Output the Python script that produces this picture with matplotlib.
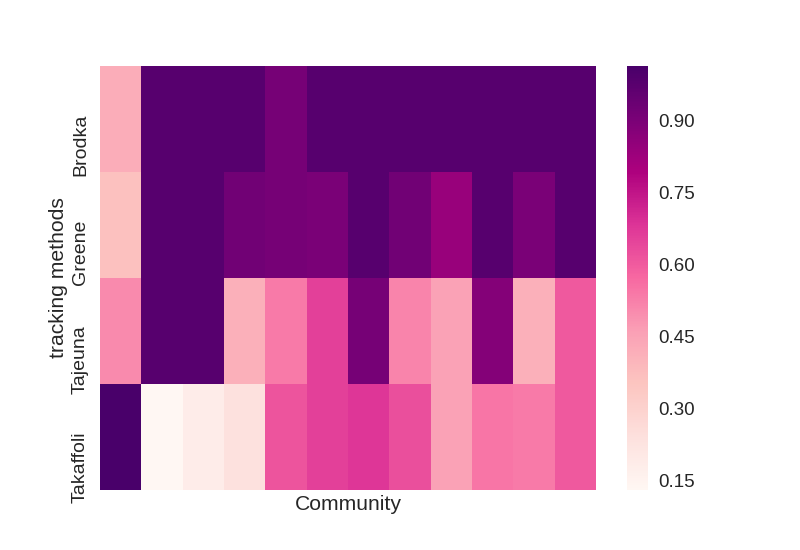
import numpy as np
import pandas as pd
import matplotlib
matplotlib.use('Agg')
import matplotlib.pyplot as plt
import matplotlib.transforms as mtransforms
import seaborn as sns

# tracking methods (rows) and values for the 12 communities
methods = ['Brodka', 'Greene', 'Tajeuna', 'Takaffoli']
brodka = [0.424, 0.982, 0.982, 0.982, 0.911, 0.982, 0.982, 0.982, 0.982, 0.982, 0.982, 0.982]
greene = [0.363, 0.982, 0.982, 0.921, 0.911, 0.901, 0.982, 0.921, 0.840, 0.982, 0.901, 0.982]
tajeuna = [0.505, 0.982, 0.982, 0.413, 0.535, 0.657, 0.911, 0.515, 0.454, 0.881, 0.413, 0.606]
takaffoli = [1.013, 0.132, 0.185, 0.241, 0.617, 0.657, 0.678, 0.627, 0.454, 0.545, 0.535, 0.606]
cbar_ticks = [0.15, 0.30, 0.45, 0.60, 0.75, 0.90]

sns.set_theme(style='white')
plt.rcParams['font.family'] = ['Liberation Sans', 'DejaVu Sans']
plt.rcParams['text.color'] = '#262626'
plt.rcParams['axes.labelcolor'] = '#262626'
plt.rcParams['xtick.color'] = '#262626'
plt.rcParams['ytick.color'] = '#262626'

df = pd.DataFrame([brodka, greene, tajeuna, takaffoli], index=methods)

fig = plt.figure(figsize=(8, 5.5), dpi=100)
ax = sns.heatmap(df, cmap='RdPu', xticklabels=False, yticklabels=True)
ax.set_xlabel('Community', fontsize=15.2)
ax.set_ylabel('tracking methods', fontsize=15.2)
ax.yaxis.set_label_coords(-0.064, 0.5)
ax.set_yticklabels(methods, rotation=90, va='top', fontsize=14)
ax.tick_params(length=0)
ax.tick_params(axis='y', pad=8)

# labels sit a little above the row centre in the original
shift = mtransforms.ScaledTranslation(0, 5 / 100, fig.dpi_scale_trans)
for lab in ax.get_yticklabels():
    lab.set_transform(lab.get_transform() + shift)

cbar = ax.collections[0].colorbar
cbar.set_ticks(cbar_ticks)
cbar.ax.tick_params(labelsize=13.5, length=0, pad=7)
cbar.outline.set_visible(False)

plt.savefig('out.png', dpi=100)
